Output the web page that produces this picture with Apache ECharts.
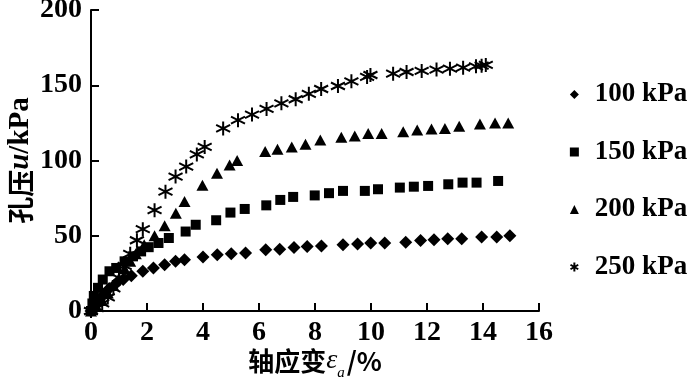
<!DOCTYPE html>
<html>
<head>
<meta charset="utf-8">
<script src="https://cdn.jsdelivr.net/npm/echarts@6/dist/echarts.min.js"></script>
<style>html,body{margin:0;padding:0;background:#fff;}#c{width:693px;height:382px;}</style>
</head>
<body>
<div id="c"></div>
<script>
// ---- data ----
const legendNames = ['100 kPa', '150 kPa', '200 kPa', '250 kPa'];
const xTicks = [0, 2, 4, 6, 8, 10, 12, 14, 16];
const yTicks = [0, 50, 100, 150, 200];

const s100x = [0,0.1,0.25,0.45,0.65,0.9,1.15,1.44,1.85,2.23,2.63,3.02,3.34,4.0,4.51,5.01,5.52,6.24,6.74,7.25,7.72,8.23,9.0,9.52,9.99,10.49,11.24,11.77,12.25,12.74,13.24,13.95,14.49,14.96];
const s100y = [0,3,7,11,15,18.5,21,23.5,26.4,28.6,30.8,33,34.1,35.9,37.4,38.1,38.6,40.7,41.1,42.2,42.9,43.2,44.0,44.5,45.2,45.2,45.6,46.9,47.4,48.0,48.0,49.1,49.1,50.0];

const s150x = [0,0.05,0.1,0.25,0.42,0.66,0.9,1.2,1.5,1.79,2.06,2.41,2.78,3.38,3.74,4.47,4.98,5.49,6.26,6.76,7.22,7.99,8.50,9.00,9.78,10.25,11.03,11.53,12.04,12.76,13.27,13.77,14.54];
const s150y = [0,5,10,15.4,20.9,26.4,28.6,33,36.3,39.6,42.4,45.2,48.5,52.8,57.3,60.3,65.4,67.8,70.2,73.8,75.8,76.8,78.3,79.8,79.8,80.9,82,82.6,83.1,84.2,85.3,85.3,86.4];

const s200x = [0,0.2,0.4,0.6,0.8,1.0,1.2,1.4,1.6,1.9,2.27,2.63,3.03,3.34,3.98,4.5,4.95,5.22,6.22,6.66,7.17,7.66,8.19,8.94,9.42,9.90,10.38,11.15,11.65,12.16,12.64,13.15,13.89,14.43,14.90];
const s200y = [0,3,7,12,17,22,28,33,38,44,50,56.6,65,72.7,83.5,91.5,97,100,106,107.5,108.9,110.8,113.6,115.4,116.2,118,118,119.1,120.2,120.9,121.3,122.8,124.2,125,125];

const s250x = [0,0.2,0.4,0.6,0.8,1.0,1.2,1.4,1.64,1.85,2.27,2.66,3.02,3.4,3.78,4.06,4.72,5.25,5.75,6.27,6.80,7.31,7.78,8.22,8.82,9.30,9.86,9.98,10.79,11.27,11.81,12.34,12.82,13.29,13.75,13.95,14.1];
const s250y = [0,2,5,9,15,22,30,38,47,54.4,67,79.3,89.3,96,104,109,121.3,126.8,130.5,134.3,138,140.7,144.3,147.5,149.5,152.6,155.5,156.8,157.7,158.8,159.5,160.4,161,161.7,162.6,163,163.5];

function pairs(xs, ys) { return xs.map((x, i) => [x, ys[i]]); }

const SERIF = 'Liberation Serif';
const CJK = 'Noto Sans CJK SC';
const starPath = 'path://M5,0L5,10M0.7,2.5L9.3,7.5M9.3,2.5L0.7,7.5';

const chart = echarts.init(document.getElementById('c'), null, {renderer: 'canvas'});
chart.setOption({
  animation: false,
  backgroundColor: '#fff',
  grid: {left: 91, right: 154, top: 10, bottom: 71, containLabel: false, outerBoundsMode: 'none'},
  legend: {
    orient: 'vertical',
    left: 563,
    top: 76,
    itemGap: 30.5,
    itemWidth: 9,
    itemHeight: 9,
    data: legendNames,
    textStyle: {fontFamily: SERIF, fontSize: 27, fontWeight: 'bold', color: '#000', padding: [0, 0, 0, 11]}
  },
  xAxis: {
    type: 'value',
    min: xTicks[0],
    max: xTicks[xTicks.length - 1],
    interval: 2,
    name: '{c|轴应变}{e|ε}{s|a}{c|/%}',
    nameLocation: 'middle',
    nameMoveOverlap: false,
    nameGap: 36,
    nameTextStyle: {
      rich: {
        c: {fontFamily: CJK, fontSize: 26, fontWeight: 'bold', color: '#000'},
        e: {fontFamily: SERIF, fontStyle: 'italic', fontSize: 28, color: '#000'},
        s: {fontFamily: SERIF, fontStyle: 'italic', fontSize: 15, color: '#000', verticalAlign: 'bottom', padding: [0, 2, -6, 0]}
      }
    },
    axisLine: {lineStyle: {color: '#000', width: 2}},
    axisTick: {inside: true, length: 8, lineStyle: {color: '#000', width: 2}},
    axisLabel: {fontFamily: SERIF, fontSize: 28, fontWeight: 'bold', color: '#000', margin: 8},
    splitLine: {show: false}
  },
  yAxis: {
    type: 'value',
    min: yTicks[0],
    max: yTicks[yTicks.length - 1],
    interval: 50,
    name: '{c|孔压}{u|u}{k|/kPa}',
    nameLocation: 'middle',
    nameRotate: 90,
    nameMoveOverlap: false,
    nameGap: 56,
    nameTextStyle: {
      rich: {
        c: {fontFamily: CJK, fontSize: 27, fontWeight: 'bold', color: '#000'},
        u: {fontFamily: SERIF, fontStyle: 'italic', fontWeight: 'bold', fontSize: 29, color: '#000'},
        k: {fontFamily: SERIF, fontSize: 29, fontWeight: 'bold', color: '#000'}
      }
    },
    axisLine: {lineStyle: {color: '#000', width: 2}},
    axisTick: {inside: true, length: 8, lineStyle: {color: '#000', width: 2}},
    axisLabel: {fontFamily: SERIF, fontSize: 28, fontWeight: 'bold', color: '#000', margin: 9},
    splitLine: {show: false}
  },
  series: [
    {name: legendNames[0], type: 'scatter', symbol: 'diamond', symbolSize: [13, 13],
     itemStyle: {color: '#000', opacity: 1}, data: pairs(s100x, s100y)},
    {name: legendNames[1], type: 'scatter', symbol: 'rect', symbolSize: 10,
     itemStyle: {color: '#000', opacity: 1}, data: pairs(s150x, s150y)},
    {name: legendNames[2], type: 'scatter', symbol: 'triangle', symbolSize: [12, 11],
     itemStyle: {color: '#000', opacity: 1}, data: pairs(s200x, s200y)},
    {name: legendNames[3], type: 'scatter', symbol: starPath, symbolSize: 14,
     itemStyle: {color: 'none', borderColor: '#000', borderWidth: 2, opacity: 1}, data: pairs(s250x, s250y)}
  ]
});
</script>
</body>
</html>
